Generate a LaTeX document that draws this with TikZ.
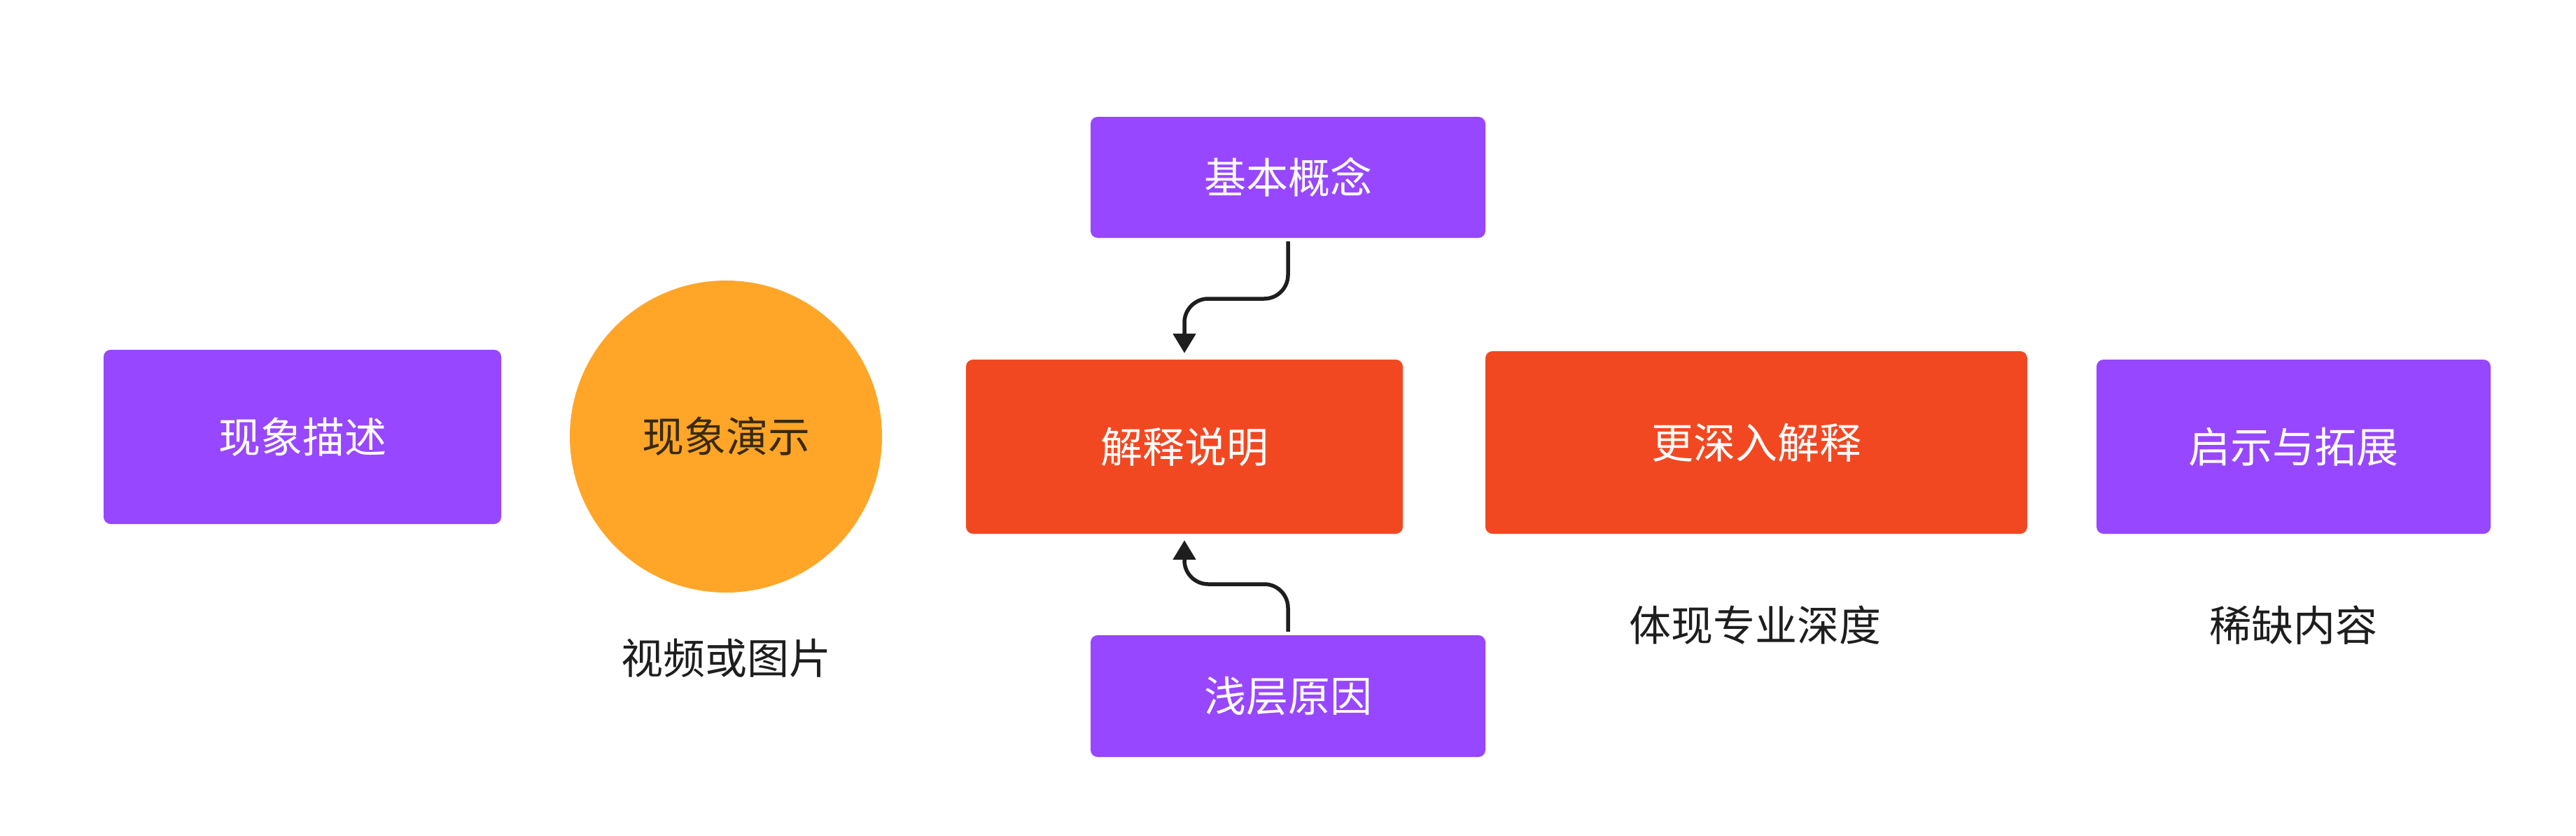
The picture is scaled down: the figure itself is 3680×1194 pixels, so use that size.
\documentclass[tikz,border=0pt]{standalone}
\usepackage{fontspec}
\setmainfont{Noto Sans CJK SC}
\usetikzlibrary{arrows.meta}
\definecolor{fpurple}{HTML}{9747FF}
\definecolor{fred}{HTML}{F24822}
\definecolor{forange}{HTML}{FFA629}
\definecolor{ftext}{HTML}{1E1E1E}
\definecolor{fcirctext}{HTML}{3A2A0A}
\tikzset{
  boxbase/.style={rectangle, rounded corners=10pt, inner sep=0pt, text=white,
    font=\fontsize{60}{72}\selectfont},
  purplebox/.style={boxbase, fill=fpurple},
  redbox/.style={boxbase, fill=fred},
  circbox/.style={circle, fill=forange, inner sep=0pt, minimum size=446pt,
    text=fcirctext, font=\fontsize{60}{72}\selectfont},
  caption/.style={inner sep=0pt, text=ftext, font=\fontsize{60}{72}\selectfont},
  conn/.style={draw=ftext, line width=5.5pt, rounded corners=34pt,
    -{Triangle[length=28pt,width=32pt]}},
}
\begin{document}
\begin{tikzpicture}[x=1pt,y=-1pt]
\useasboundingbox (0,0) rectangle (3680,1194);
\fill[white] (0,0) rectangle (3680,1194);

\node[purplebox, minimum width=568pt, minimum height=249pt] (desc) at (432,624.5) {现象描述};
\node[circbox] (demo) at (1037,624) {现象演示};
\node[caption] (demoCap) at (1037,941) {视频或图片};
\node[redbox, minimum width=624pt, minimum height=249pt] (expl) at (1692,638.5) {解释说明};
\node[purplebox, minimum width=564pt, minimum height=173pt] (basic) at (1840,253.5) {基本概念};
\node[purplebox, minimum width=564pt, minimum height=174pt] (shallow) at (1840,995) {浅层原因};
\node[redbox, minimum width=774pt, minimum height=261pt] (deep) at (2509,632.5) {更深入解释};
\node[caption] (deepCap) at (2507,894) {体现专业深度};
\node[purplebox, minimum width=563pt, minimum height=249pt] (insp) at (3276.5,638.5) {启示与拓展};
\node[caption] (inspCap) at (3276,894) {稀缺内容};

\coordinate (bStart) at ([yshift=-5pt]basic.south);
\coordinate (eTop) at ([yshift=9pt]expl.north);
\draw[conn] (bStart) |- (1766,427) -| (eTop);

\coordinate (sStart) at ([yshift=5pt]shallow.north);
\coordinate (eBot) at ([yshift=-9pt]expl.south);
\draw[conn] (sStart) |- (1766,835) -| (eBot);
\end{tikzpicture}
\end{document}
